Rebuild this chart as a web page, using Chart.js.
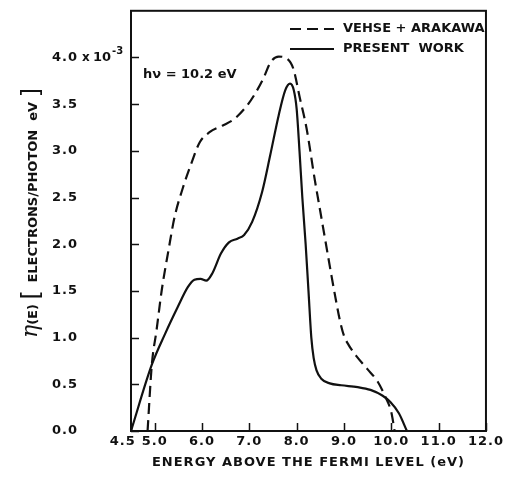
<!DOCTYPE html>
<html>
<head>
<meta charset="utf-8">
<script src="https://cdn.jsdelivr.net/npm/chart.js@4.4.1/dist/chart.umd.min.js"></script>
<style>
  body { margin: 0; background: #fff; }
  canvas { display: block; }
</style>
</head>
<body>
<canvas id="yieldChart" width="505" height="479"></canvas>
<script>
// axis ticks
const xTicks = [4.5, 5, 6, 7, 8, 9, 10, 11, 12];
const xLabels = ['4.5\u00a0\u00a0\u00a0', '5.0', '6.0', '7.0', '8.0', '9.0', '10.0', '11.0', '12.0'];
const yTicks = [0, 0.5, 1, 1.5, 2, 2.5, 3, 3.5, 4];
const yLabels = ['0.0', '0.5', '1.0', '1.5', '2.0', '2.5', '3.0', '3.5', '4.0'];

// Vehse + Arakawa (dashed)
const vehseE = [4.85, 4.94, 5.04, 5.15, 5.29, 5.42, 5.60, 5.77, 5.95, 6.16, 6.43, 6.68, 6.96, 7.13, 7.30, 7.45, 7.62, 7.79, 7.93, 8.07, 8.21, 8.38, 8.50, 8.62, 8.73, 8.83, 8.92, 9.00, 9.10, 9.25, 9.50, 9.71, 9.88, 10.00, 10.07];
const vehseN = [0, 0.71, 1.08, 1.51, 1.93, 2.29, 2.61, 2.86, 3.09, 3.20, 3.27, 3.34, 3.49, 3.62, 3.78, 3.95, 4.01, 3.99, 3.88, 3.56, 3.24, 2.70, 2.35, 2.00, 1.68, 1.40, 1.17, 1.02, 0.92, 0.81, 0.66, 0.53, 0.36, 0.20, 0];

// present work (solid)
const presentE = [4.5, 4.94, 5.22, 5.49, 5.70, 5.84, 5.97, 6.09, 6.22, 6.40, 6.57, 6.75, 6.89, 7.06, 7.27, 7.44, 7.62, 7.76, 7.86, 7.94, 8.00, 8.06, 8.12, 8.19, 8.25, 8.31, 8.36, 8.42, 8.52, 8.70, 8.94, 9.29, 9.56, 9.81, 9.98, 10.16, 10.33];
const presentN = [0, 0.71, 1.04, 1.33, 1.54, 1.62, 1.63, 1.61, 1.69, 1.90, 2.02, 2.06, 2.10, 2.24, 2.56, 2.95, 3.38, 3.65, 3.72, 3.65, 3.45, 3.00, 2.50, 2.00, 1.50, 1.00, 0.78, 0.65, 0.56, 0.51, 0.49, 0.47, 0.44, 0.38, 0.31, 0.19, 0];

const FONT = 'DejaVu Sans';

function pts(xs, ys) {
    return xs.map((x, i) => ({ x: x, y: ys[i] }));
}

// frame, inward ticks, y title, annotation and legend
const extras = {
    id: 'extras',
    beforeDraw: function(chart) {
        chart.ctx.letterSpacing = '1px';
    },
    afterDraw: function(chart) {
        const ctx = chart.ctx;
        const a = chart.chartArea;
        const xs = chart.scales.x, ys = chart.scales.y;
        ctx.save();
        ctx.letterSpacing = '0px';
        ctx.strokeStyle = '#111';
        ctx.lineWidth = 2;
        ctx.strokeRect(a.left, a.top, a.right - a.left, a.bottom - a.top);

        ctx.lineWidth = 1.5;
        ctx.beginPath();
        xTicks.forEach(v => {
            const px = Math.round(xs.getPixelForValue(v)) + 0.5;
            ctx.moveTo(px, a.bottom);
            ctx.lineTo(px, a.bottom - 8);
        });
        yTicks.forEach(v => {
            const py = Math.round(ys.getPixelForValue(v)) + 0.5;
            ctx.moveTo(a.left, py);
            ctx.lineTo(a.left + 8, py);
        });
        ctx.stroke();

        // exponent next to the top tick label
        ctx.fillStyle = '#111';
        ctx.textBaseline = 'middle';
        const y4 = ys.getPixelForValue(4);
        ctx.font = 'bold 12px ' + FONT;
        ctx.fillText('x', 82, y4);
        ctx.font = 'bold 13px ' + FONT;
        ctx.fillText('10', 93, y4);
        ctx.font = 'bold 10px ' + FONT;
        ctx.fillText('-3', 112, y4 - 6);

        // y axis title, rotated
        ctx.save();
        ctx.translate(37, 213);
        ctx.rotate(-Math.PI / 2);
        const parts = [
            ['η', 'italic 22px DejaVu Serif', 0],
            ['(E) ', 'bold 13px ' + FONT, 0],
            ['[ ', '24px DejaVu Sans', 2],
            ['ELECTRONS/PHOTON  eV ', 'bold 13px ' + FONT, 0],
            [']', '24px DejaVu Sans', 2]
        ];
        let total = 0;
        parts.forEach(p => { ctx.font = p[1]; p.w = ctx.measureText(p[0]).width; total += p.w; });
        let cx = -total / 2;
        ctx.textBaseline = 'alphabetic';
        parts.forEach(p => {
            ctx.font = p[1];
            ctx.fillText(p[0], cx, p[2]);
            cx += p.w;
        });
        ctx.restore();

        ctx.font = 'bold 13px ' + FONT;
        ctx.fillText('hν = 10.2 eV', 143, 75);

        // legend
        chart.data.datasets.forEach((ds, i) => {
            const y = 29 + i * 20;
            ctx.strokeStyle = ds.borderColor;
            ctx.lineWidth = ds.borderWidth;
            ctx.setLineDash(ds.borderDash || []);
            ctx.beginPath();
            ctx.moveTo(290, y);
            ctx.lineTo(334, y);
            ctx.stroke();
            ctx.setLineDash([]);
            ctx.fillText(ds.label, 343, y);
        });
        ctx.restore();
    }
};

const chart = new Chart(document.getElementById('yieldChart').getContext('2d'), {
    type: 'line',
    data: {
        datasets: [{
            label: 'VEHSE + ARAKAWA',
            data: pts(vehseE, vehseN),
            borderColor: '#111',
            borderWidth: 2.2,
            borderDash: [11, 6],
            pointRadius: 0,
            fill: false,
            cubicInterpolationMode: 'monotone'
        }, {
            label: 'PRESENT  WORK',
            data: pts(presentE, presentN),
            borderColor: '#111',
            borderWidth: 2.2,
            pointRadius: 0,
            fill: false,
            cubicInterpolationMode: 'monotone'
        }]
    },
    options: {
        responsive: false,
        animation: false,
        layout: { padding: { left: 52, right: 15, top: 9, bottom: 0 } },
        plugins: {
            legend: { display: false },
            tooltip: { enabled: false }
        },
        scales: {
            x: {
                type: 'linear',
                min: 4.5,
                max: 12,
                afterBuildTicks: s => { s.ticks = xTicks.map(v => ({ value: v })); },
                afterFit: s => { s.height = 48; },
                grid: { display: false, drawTicks: false },
                border: { display: false },
                ticks: {
                    autoSkip: false,
                    maxRotation: 0,
                    padding: 3,
                    color: '#111',
                    font: { family: FONT, size: 13, weight: 'bold' },
                    callback: (v, i) => xLabels[i]
                },
                title: {
                    display: true,
                    text: 'ENERGY ABOVE THE FERMI LEVEL (eV)',
                    color: '#111',
                    font: { family: FONT, size: 13, weight: 'bold' },
                    padding: { top: 0, bottom: 9 }
                }
            },
            y: {
                min: 0,
                max: 4.5,
                afterBuildTicks: s => { s.ticks = yTicks.map(v => ({ value: v })); },
                afterFit: s => { s.width = 79; },
                grid: { display: false, drawTicks: false },
                border: { display: false },
                ticks: {
                    crossAlign: 'far',
                    color: '#111',
                    font: { family: FONT, size: 13, weight: 'bold' },
                    callback: (v, i) => yLabels[i]
                }
            }
        }
    },
    plugins: [extras]
});
</script>
</body>
</html>
